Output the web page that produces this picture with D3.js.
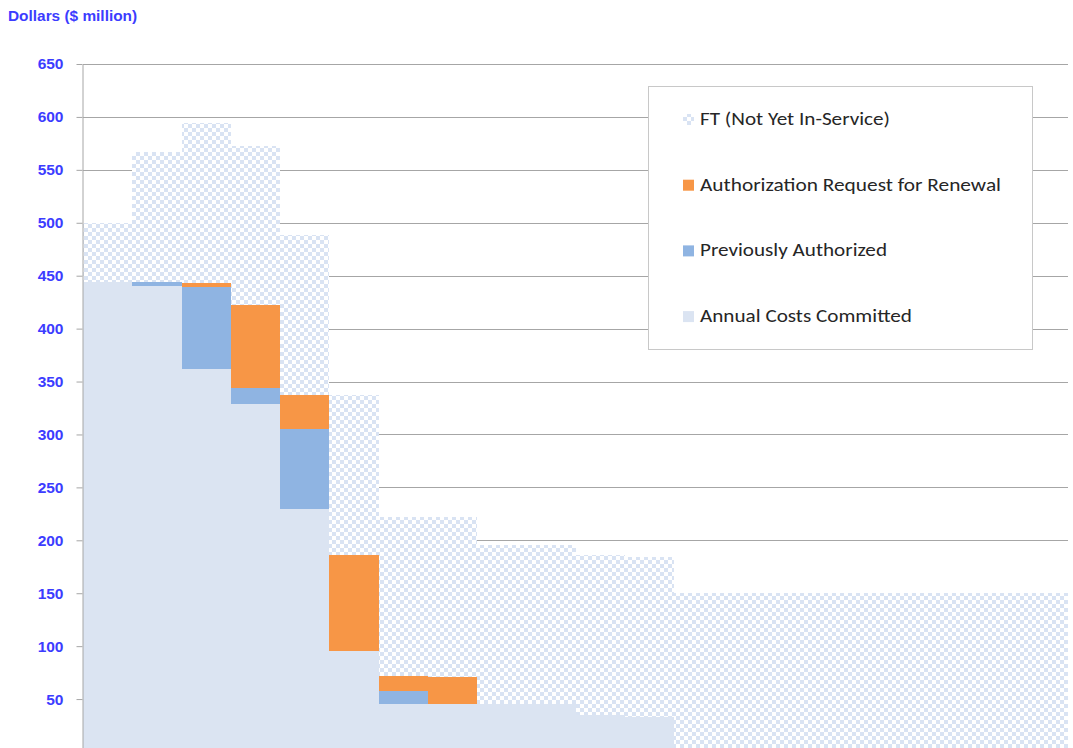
<!DOCTYPE html>
<html><head><meta charset="utf-8">
<script src="https://cdn.jsdelivr.net/npm/d3@7"></script>
<style>body{margin:0;background:#fff}svg{display:block}</style>
</head><body><svg id="c" width="1073" height="748"></svg>
<script>
// ---- data ----
const categories = ["1","2","3","4","5","6","7","8","9","10","11","12","13","14","15","16","17","18","19","20"];
const committed  = [444, 440, 362, 329, 230, 95, 45, 45, 45, 45, 35, 33, 0, 0, 0, 0, 0, 0, 0, 0];
const prevAuth   = [0, 4, 77, 15, 75, 0, 13, 0, 0, 0, 0, 0, 0, 0, 0, 0, 0, 0, 0, 0];
const renewal    = [0, 0, 4, 78, 32, 91, 14, 26, 0, 0, 0, 0, 0, 0, 0, 0, 0, 0, 0, 0];
const ftPending  = [56, 123, 151, 151, 151, 151, 150, 151, 151, 151, 151, 151, 150, 150, 150, 150, 150, 150, 150, 150];
const yTicks = [50, 100, 150, 200, 250, 300, 350, 400, 450, 500, 550, 600, 650];
const seriesKeys  = ["committed", "prevAuth", "renewal", "ft"];
const seriesNames = {committed: "Annual Costs Committed", prevAuth: "Previously Authorized",
                     renewal: "Authorization Request for Renewal", ft: "FT (Not Yet In-Service)"};
const legendKeys = ["ft", "renewal", "prevAuth", "committed"];
const yTitle = "Dollars ($ million)";

// ---- styles ----
const colors = {committed: "#dbe4f2", prevAuth: "#8fb4e2", renewal: "#f79646"};
const checkColor = "#d9e3f3";
const axisBlue = "#3c3cff";

const svg = d3.select("#c");
const defs = svg.append("defs");
const pat = defs.append("pattern").attr("id", "checker")
  .attr("patternUnits", "userSpaceOnUse").attr("width", 8).attr("height", 8);
pat.append("rect").attr("width", 8).attr("height", 8).attr("fill", "#fff");
pat.append("rect").attr("width", 4).attr("height", 4).attr("fill", checkColor);
pat.append("rect").attr("x", 4).attr("y", 4).attr("width", 4).attr("height", 4).attr("fill", checkColor);
const fillFor = k => k === "ft" ? "url(#checker)" : colors[k];

const table = categories.map((c, i) => ({cat: c, committed: committed[i], prevAuth: prevAuth[i], renewal: renewal[i], ft: ftPending[i]}));

const x = d3.scaleBand().domain(categories).range([83, 1068]).padding(0);
const y = d3.scaleLinear().domain([0, 650]).range([752, 64]);

// gridlines
svg.append("g").selectAll("line").data(yTicks).join("line")
  .attr("x1", 83).attr("x2", 1068)
  .attr("y1", d => Math.round(y(d)) + 0.5).attr("y2", d => Math.round(y(d)) + 0.5)
  .attr("stroke", "#a6a6a6").attr("stroke-width", 1);

// stacked bars
const stacked = d3.stack().keys(seriesKeys)(table);
svg.append("g").selectAll("g").data(stacked).join("g")
  .attr("fill", s => fillFor(s.key))
  .selectAll("rect").data(s => s.filter(d => d[1] - d[0] > 0)).join("rect")
  .attr("x", d => x(d.data.cat)).attr("width", x.bandwidth())
  .attr("y", d => y(d[1])).attr("height", d => y(d[0]) - y(d[1]))
  .attr("shape-rendering", "crispEdges");

// y axis
const yAxis = d3.axisLeft(y).tickValues(yTicks).tickSize(6).tickSizeOuter(0).tickPadding(13);
const ag = svg.append("g").attr("transform", "translate(82.5,0)").call(yAxis);
ag.select(".domain").attr("stroke", "#a6a6a6");
ag.selectAll(".tick line").attr("stroke", "#a6a6a6");
ag.selectAll(".tick text").attr("fill", axisBlue)
  .attr("font-family", "'Liberation Sans', Arial, sans-serif")
  .attr("font-weight", "bold").attr("font-size", 15.5);

// y title
svg.append("text").attr("x", 8).attr("y", 21).text(yTitle)
  .attr("fill", axisBlue).attr("font-family", "'Liberation Sans', Arial, sans-serif")
  .attr("font-weight", "bold").attr("font-size", 15.4);

// legend
const lg = svg.append("g");
lg.append("rect").attr("x", 648.5).attr("y", 86.5).attr("width", 384).attr("height", 263)
  .attr("fill", "#fff").attr("stroke", "#c8c8c8");
const textLens = {ft: 190, renewal: 301, prevAuth: 187, committed: 212};
const items = lg.selectAll("g.item").data(legendKeys).join("g").attr("class", "item")
  .attr("transform", (d, i) => `translate(683, ${125 + i * 65.7})`);
items.append("rect").attr("x", 0).attr("y", -11).attr("width", 11).attr("height", 11)
  .attr("fill", d => fillFor(d));
items.append("text").attr("x", 17).attr("y", 0).text(d => seriesNames[d])
  .attr("fill", "#262626").attr("font-family", "Carlito, 'Liberation Sans', Arial, sans-serif")
  .attr("font-size", 18.5)
  .attr("textLength", d => textLens[d]).attr("lengthAdjust", "spacingAndGlyphs");
</script></body></html>
